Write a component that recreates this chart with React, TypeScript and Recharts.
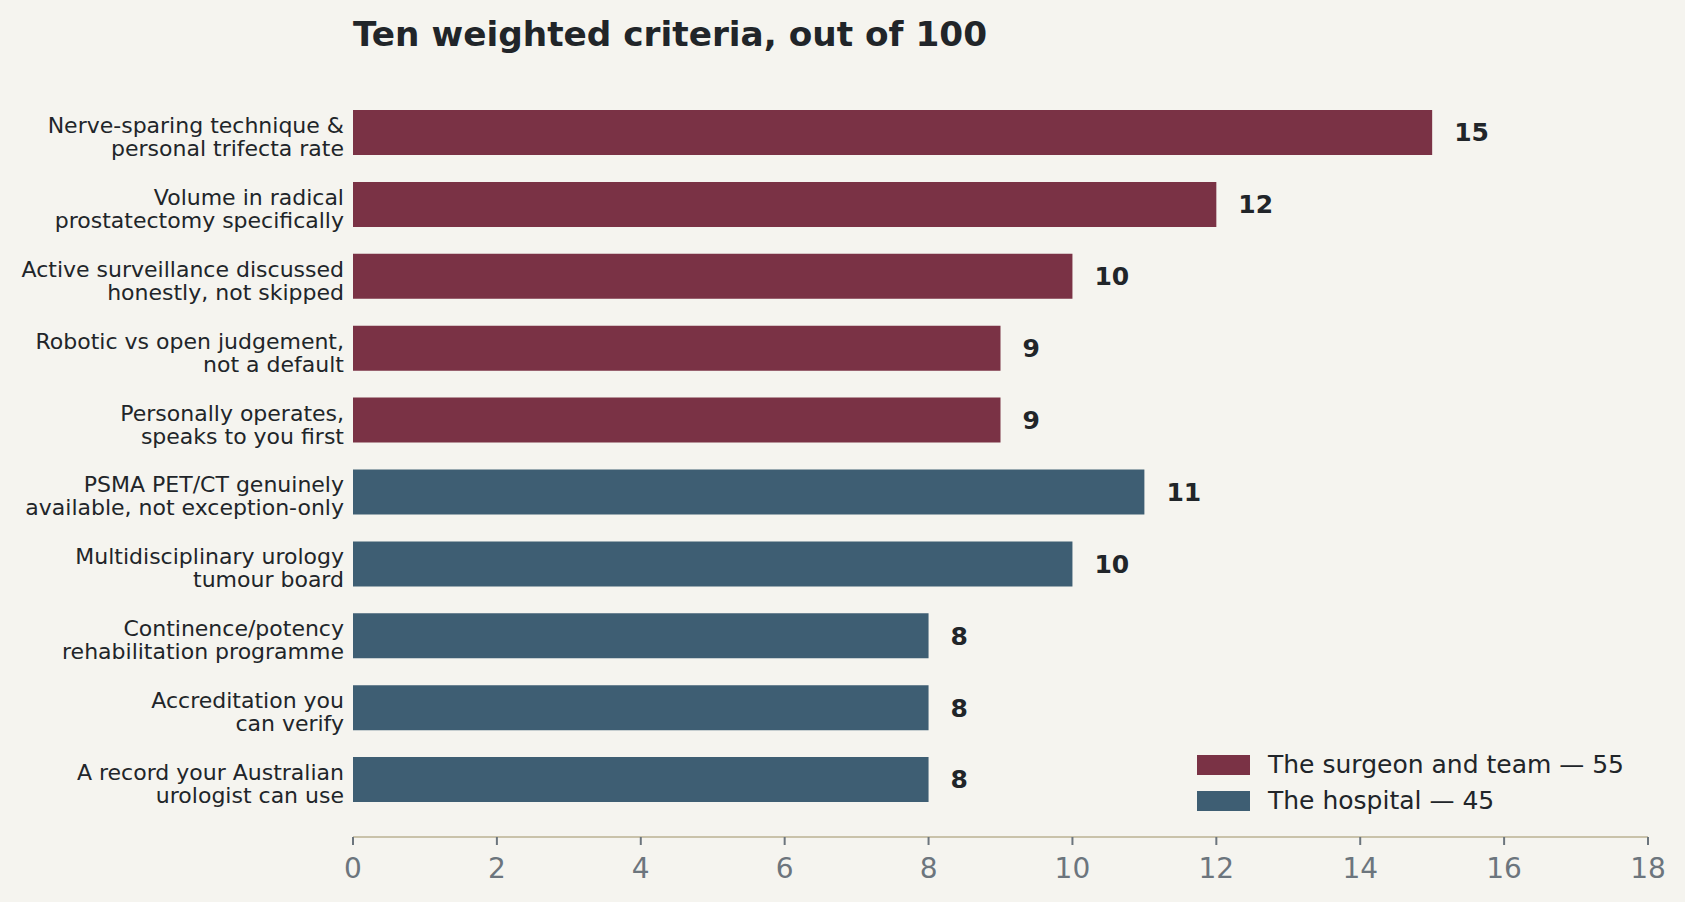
import { Bar, BarChart, Cell, LabelList, Legend, XAxis, YAxis } from 'recharts'

const categories = [
  'Nerve-sparing technique &\npersonal trifecta rate',
  'Volume in radical\nprostatectomy specifically',
  'Active surveillance discussed\nhonestly, not skipped',
  'Robotic vs open judgement,\nnot a default',
  'Personally operates,\nspeaks to you first',
  'PSMA PET/CT genuinely\navailable, not exception-only',
  'Multidisciplinary urology\ntumour board',
  'Continence/potency\nrehabilitation programme',
  'Accreditation you\ncan verify',
  'A record your Australian\nurologist can use',
]
const weights = [15, 12, 10, 9, 9, 11, 10, 8, 8, 8]
const groups = [0, 0, 0, 0, 0, 1, 1, 1, 1, 1]
const groupNames = ['The surgeon and team — 55', 'The hospital — 45']
const groupColors = ['#7a3245', '#3e5e73']
const xTicks = [0, 2, 4, 6, 8, 10, 12, 14, 16, 18]

const data = categories.map((name, i) => ({ name, value: weights[i], group: groups[i] }))

const FONT = '"DejaVu Sans", sans-serif'
const INK = '#212529'

function CategoryTick({ x, y, payload }: any) {
  const lines = String(payload.value).split('\n')
  return (
    <text x={x} y={y} textAnchor="end" fill={INK} fontSize={22} fontFamily={FONT}>
      {lines.map((line, i) => (
        <tspan key={i} x={x} dy={i === 0 ? 0 : 23}>
          {line}
        </tspan>
      ))}
    </text>
  )
}

function GroupLegend() {
  return (
    <div style={{ fontFamily: FONT, fontSize: 25, color: INK }}>
      {groupNames.map((name, i) => (
        <div key={name} style={{ display: 'flex', alignItems: 'center', height: 36, lineHeight: '36px' }}>
          <span
            style={{
              display: 'inline-block',
              width: 53,
              height: 20,
              background: groupColors[i],
              marginRight: 18,
            }}
          />
          <span style={{ whiteSpace: 'nowrap' }}>{name}</span>
        </div>
      ))}
    </div>
  )
}

export default function App() {
  return (
    <div
      style={{
        position: 'absolute',
        left: 0,
        top: 0,
        width: 1685,
        height: 902,
        background: '#f5f4ef',
        fontFamily: FONT,
        overflow: 'hidden',
      }}
    >
      <div
        style={{
          position: 'absolute',
          left: 353,
          top: 17,
          fontSize: 34.3,
          lineHeight: '34px',
          fontWeight: 'bold',
          color: INK,
          whiteSpace: 'nowrap',
        }}
      >
        Ten weighted criteria, out of 100
      </div>
      <BarChart
        width={1685}
        height={902}
        data={data}
        layout="vertical"
        margin={{ top: 76, right: 37, bottom: 0, left: 1 }}
      >
        <XAxis
          type="number"
          domain={[0, 18]}
          ticks={xTicks}
          interval={0}
          height={65}
          tickSize={8}
          tickMargin={13}
          tick={{ fill: '#6c757d', fontSize: 28, fontFamily: FONT }}
          axisLine={{ stroke: '#c9c2aa', strokeWidth: 2 }}
          tickLine={{ stroke: '#6c757d', strokeWidth: 2 }}
        />
        <YAxis
          type="category"
          dataKey="name"
          width={352}
          tickSize={0}
          tickMargin={9}
          axisLine={false}
          tickLine={false}
          interval={0}
          padding={{ top: 21, bottom: 21 }}
          tick={<CategoryTick />}
        />
        <Legend
          layout="vertical"
          align="center"
          verticalAlign="middle"
          content={() => <GroupLegend />}
          wrapperStyle={{ left: 1197, top: 747, width: 'auto' }}
        />
        <Bar dataKey="value" barSize={45} isAnimationActive={false}>
          {data.map((d, i) => (
            <Cell key={i} fill={groupColors[d.group]} />
          ))}
          <LabelList
            dataKey="value"
            position="right"
            offset={22}
            fill={INK}
            fontSize={25}
            fontWeight="bold"
            fontFamily={FONT}
          />
        </Bar>
      </BarChart>
    </div>
  )
}
